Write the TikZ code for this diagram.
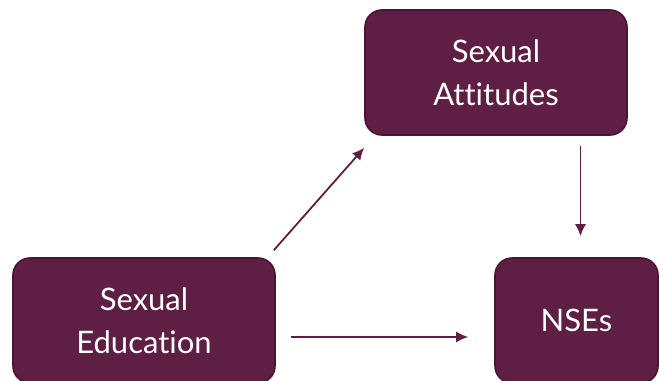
\documentclass[tikz,border=0pt]{standalone}
\usepackage{fontspec}
\setmainfont[Ligatures=CommonOff]{Lato}
\usepackage{tikz}
\usetikzlibrary{arrows.meta}
\usetikzlibrary{calc}

\definecolor{maroon}{HTML}{5F1E44}
\definecolor{maroonline}{HTML}{4A1434}

\tikzset{
  factor/.style={draw=maroonline, line width=1.6pt, fill=maroon, rounded corners=17pt,
    minimum width=262pt, minimum height=125pt, text=white, align=center,
    font=\fontsize{31}{43}\selectfont},
  link/.style={draw=maroon, line width=1.8pt, -{Latex[length=12pt,width=11pt]}}
}

\begin{document}
\begin{tikzpicture}[x=1pt,y=-1pt]
\clip (0,0) rectangle (660,380);
\useasboundingbox (0,0) rectangle (660,380);
\node (att) [factor] at (496,72.5) {Sexual\\Attitudes};
\node (edu) [factor] at (144,320.5) {Sexual\\Education};
\node (nse) [factor, minimum width=163pt] at (576.5,320.5) {NSEs};
\draw [link] ($(edu.north east)+(-2,-7)$) -- ($(att.south west)+(0,12)$);
\draw [link] ($(edu.east)+(15,16.5)$) -- ($(nse.west)+(-26,16.5)$);
\draw [link] ($(att.south -| nse.north)+(4,10)$) -- ($(nse.north)+(4,-21)$);
\end{tikzpicture}
\end{document}
